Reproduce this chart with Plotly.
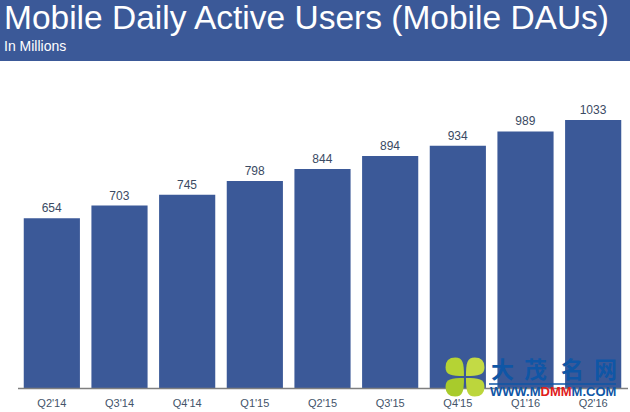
import plotly.graph_objects as go

WIDTH, HEIGHT = 630, 412
LEFT, RIGHT, TOP, BOTTOM = 18, 3, 100, 24
BLUE = "#3b5998"
MARK_BLUE = "#0f56a6"
FONT = "Liberation Sans"

quarters = ["Q2'14", "Q3'14", "Q4'14", "Q1'15", "Q2'15", "Q3'15", "Q4'15", "Q1'16", "Q2'16"]
dau = [654, 703, 745, 798, 844, 894, 934, 989, 1033]


def px(x):
    return (x - LEFT) / (WIDTH - LEFT - RIGHT)


def py(y):
    return (HEIGHT - BOTTOM - y) / (HEIGHT - TOP - BOTTOM)


def label(text, x, y, size, color, family=FONT, anchor="left"):
    return dict(text=text, x=px(x), y=py(y), xref="paper", yref="paper", showarrow=False,
                xanchor=anchor, yanchor="middle", borderpad=0, borderwidth=0,
                font=dict(family=family, size=size, color=color))


def leaf(sx, sy, color, cx=465, cy=377, r=19.5):
    # one clover leaf, pointed at the centre and rounded on the outside
    def pt(dx, dy):
        return f"{px(cx + sx * dx):.4f},{py(cy + sy * dy):.4f}"
    start = pt(1, 1)
    path = (f"M{start} C{pt(1, r * 0.7)} {pt(2, r)} {pt(r * 0.5, r)} Q{pt(r, r)} {pt(r, r * 0.5)} "
            f"C{pt(r, 2)} {pt(r * 0.7, 1)} {start} Z")
    return dict(type="path", xref="paper", yref="paper", path=path, fillcolor=color,
                line_width=0, layer="above")


fig = go.Figure(go.Bar(
    x=quarters,
    y=dau,
    text=dau,
    textposition="outside",
    cliponaxis=False,
    textfont=dict(family=FONT, size=12, color="#3a4a63"),
    marker=dict(color=BLUE, line_width=0),
))

shapes = [
    # header band
    dict(type="rect", xref="paper", yref="paper", x0=px(0), x1=px(630), y0=py(61), y1=py(0),
         fillcolor=BLUE, line_width=0, layer="below"),
    # baseline runs a bit past the bars
    dict(type="line", xref="paper", yref="paper", x0=px(18), x1=px(628), y0=py(388.5), y1=py(388.5),
         line=dict(color="#7f7f7f", width=1.5), layer="above"),
    # watermark clover
    leaf(-1, -1, "#b5d334"),
    leaf(1, -1, "#c3da45"),
    leaf(-1, 1, "#a8cb2c"),
    leaf(1, 1, "#bcd63c"),
    # watermark rule
    dict(type="line", xref="paper", yref="paper", x0=px(489), x1=px(616), y0=py(384), y1=py(384),
         line=dict(color=MARK_BLUE, width=1.5), layer="above"),
]

annotations = [
    label("Mobile Daily Active Users (Mobile DAUs)", 4, 18, 33.5, "white"),
    label("In Millions", 4, 46, 14, "white"),
    label("<b>WWW.M<span style='color:#e0201c'>DMM</span>M.COM</b>", 553, 391, 13, MARK_BLUE, FONT, "center"),
]
for char, x in zip("大茂名网", [502, 535, 572, 605]):
    annotations.append(label(f"<b>{char}</b>", x, 368, 23, MARK_BLUE, "Noto Sans CJK SC", "center"))

fig.update_layout(
    width=WIDTH,
    height=HEIGHT,
    margin=dict(l=LEFT, r=RIGHT, t=TOP, b=BOTTOM),
    paper_bgcolor="white",
    plot_bgcolor="white",
    bargap=0.17,
    showlegend=False,
    shapes=shapes,
    annotations=annotations,
    xaxis=dict(showgrid=False, ticks="", showline=False, zeroline=False, ticklabelstandoff=7,
               tickfont=dict(family=FONT, size=11, color="#44546a")),
    yaxis=dict(range=[0, 1110], visible=False),
)

# page default body margin would push the chart off by 8px
fig.write_html("out.html", config={"displayModeBar": False},
               post_script="document.body.style.margin='0';")
